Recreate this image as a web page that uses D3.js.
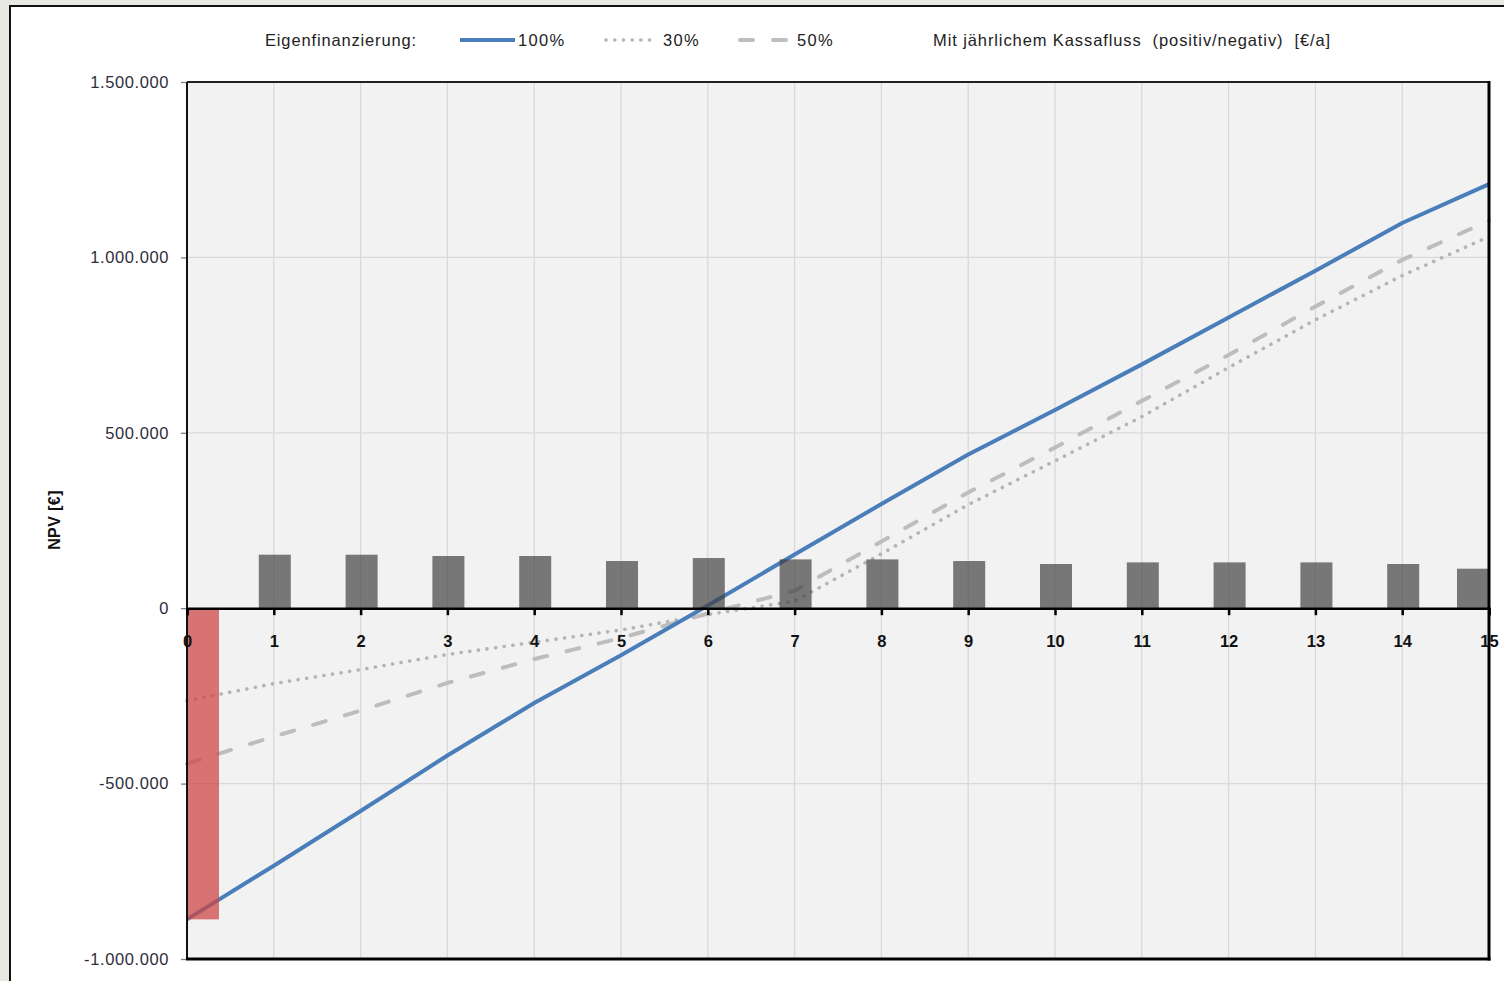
<!DOCTYPE html>
<html>
<head>
<meta charset="utf-8">
<script src="https://cdn.jsdelivr.net/npm/d3@7"></script>
<style>
  html, body { margin: 0; padding: 0; background: #e9e8e3; }
  svg { display: block; }
</style>
</head>
<body>
<svg id="chart" width="1504" height="981"></svg>
<script>
// Years of the investment horizon
const years = [0, 1, 2, 3, 4, 5, 6, 7, 8, 9, 10, 11, 12, 13, 14, 15];

// Annual cash flow [€/a] (year 0 = initial investment)
const cashflow = [-887000, 152500, 152500, 148800, 148800, 134500, 143000, 139100,
                  139100, 134500, 126000, 130600, 130600, 130600, 126000, 112600];

// Cumulative NPV [€] for different equity shares
const npv100 = [-887000, -734000, -578000, -420000, -270000, -134000, 8000, 153000,
                297000, 438000, 565000, 695000, 829000, 962000, 1098000, 1209000];
const npv30  = [-264000, -215000, -175000, -132000, -97000, -62000, -18000, 20000,
                155000, 295000, 420000, 546000, 686000, 822000, 948000, 1059000];
const npv50  = [-443000, -366000, -292000, -213000, -145000, -85000, -15000, 50000,
                190000, 330000, 458000, 591000, 722000, 860000, 993000, 1105000];

const yTicks = [-1000000, -500000, 0, 500000, 1000000, 1500000];

const svg = d3.select("#chart");
const W = 1504, H = 981;
const plot = { left: 187, right: 1489, top: 82, bottom: 959 };
const FONT = "'Liberation Sans', Arial, sans-serif";

const de = d3.formatLocale({ decimal: ",", thousands: ".", grouping: [3], currency: ["", " €"], minus: "-" });
const fmt = de.format(",.0f");

const x = d3.scaleLinear().domain([0, 15]).range([plot.left, plot.right]);
const y = d3.scaleLinear().domain([-1000000, 1500000]).range([plot.bottom, plot.top]);

// Outer chart frame
svg.append("rect").attr("x", 10).attr("y", 6).attr("width", W).attr("height", H)
  .attr("fill", "#ffffff").attr("stroke", "#111").attr("stroke-width", 2);

// Plot background
svg.append("rect").attr("x", plot.left).attr("y", plot.top)
  .attr("width", plot.right - plot.left).attr("height", plot.bottom - plot.top)
  .attr("fill", "#f2f2f2");

// Gridlines
svg.append("g").selectAll("line").data(years.slice(1, -1)).join("line")
  .attr("x1", d => x(d)).attr("x2", d => x(d))
  .attr("y1", plot.top).attr("y2", plot.bottom)
  .attr("stroke", "#d9d9d9").attr("stroke-width", 1.3);
svg.append("g").selectAll("line").data(yTicks.filter(d => d !== 0 && d > -1000000 && d < 1500000)).join("line")
  .attr("x1", plot.left).attr("x2", plot.right)
  .attr("y1", d => y(d)).attr("y2", d => y(d))
  .attr("stroke", "#d9d9d9").attr("stroke-width", 1.3);

// Y axis
const yAxis = d3.axisLeft(y).tickValues(yTicks).tickFormat(fmt).tickSize(6).tickPadding(12);
const ya = svg.append("g").attr("transform", `translate(${plot.left},0)`).call(yAxis);
ya.select(".domain").remove();
ya.selectAll(".tick line").attr("stroke", "#808080").attr("stroke-width", 1.3);
ya.selectAll(".tick text")
  .attr("font-family", FONT)
  .attr("font-size", 16.5).attr("letter-spacing", "0.6px")
  .attr("fill", "#2e2e3c");

// Axis title
svg.append("text")
  .attr("transform", `translate(60,520) rotate(-90)`)
  .attr("text-anchor", "middle")
  .attr("font-family", FONT)
  .attr("font-weight", "bold").attr("font-size", 16)
  .attr("letter-spacing", "0.4px")
  .attr("fill", "#111").text("NPV [€]");

// Lines
const line = d3.line().x((d, i) => x(years[i])).y(d => y(d));

svg.append("path").datum(npv30).attr("d", line)
  .attr("fill", "none").attr("stroke", "#b4b4b4").attr("stroke-width", 3.6)
  .attr("stroke-linecap", "round").attr("stroke-dasharray", "0.1 8.6");

svg.append("path").datum(npv50).attr("d", line)
  .attr("fill", "none").attr("stroke", "#bdbdbd").attr("stroke-width", 4)
  .attr("stroke-linecap", "round").attr("stroke-dasharray", "13 20");

svg.append("path").datum(npv100).attr("d", line)
  .attr("fill", "none").attr("stroke", "#4a7ebb").attr("stroke-width", 4)
  .attr("stroke-linejoin", "round");

// Annual cash flow bars (drawn translucent above the lines)
const barW = 32;
svg.append("g").selectAll("rect").data(cashflow).join("rect")
  .attr("x", (d, i) => Math.min(Math.max(x(years[i]) - barW / 2 + 1, plot.left), plot.right - barW))
  .attr("width", barW)
  .attr("y", d => y(Math.max(d, 0)))
  .attr("height", d => Math.abs(y(d) - y(0)))
  .attr("fill", d => d < 0 ? "#cd4646" : "#404040")
  .attr("fill-opacity", d => d < 0 ? 0.74 : 0.69);

// Plot border
svg.append("line").attr("x1", plot.left).attr("x2", plot.right).attr("y1", plot.top).attr("y2", plot.top)
  .attr("stroke", "#222").attr("stroke-width", 2);
svg.append("line").attr("x1", plot.left).attr("x2", plot.left).attr("y1", plot.top).attr("y2", plot.bottom + 1)
  .attr("stroke", "#111").attr("stroke-width", 2);
svg.append("line").attr("x1", plot.right).attr("x2", plot.right).attr("y1", plot.top - 1).attr("y2", plot.bottom + 1.5)
  .attr("stroke", "#000").attr("stroke-width", 3);
svg.append("line").attr("x1", plot.left - 1).attr("x2", plot.right + 1.5).attr("y1", plot.bottom).attr("y2", plot.bottom)
  .attr("stroke", "#000").attr("stroke-width", 3);

// Zero axis with year ticks and labels
const xAxis = d3.axisBottom(x).tickValues(years).tickFormat(d3.format("d")).tickSize(7).tickPadding(20);
const xa = svg.append("g").attr("transform", `translate(0,${y(0)})`).call(xAxis);
xa.select(".domain").attr("stroke", "#000").attr("stroke-width", 2.5);
xa.selectAll(".tick line").attr("stroke", "#000").attr("stroke-width", 2.5);
xa.selectAll(".tick text")
  .attr("font-family", FONT)
  .attr("font-weight", "bold").attr("font-size", 16.5)
  .attr("fill", "#111");

// Legend
const legY = 40;
const lg = svg.append("g")
  .attr("font-family", FONT)
  .attr("font-size", 16.5).attr("fill", "#222");
lg.append("text").attr("x", 265).attr("y", legY).attr("dy", "0.35em")
  .attr("letter-spacing", "0.85px").text("Eigenfinanzierung:");

const legendItems = [
  { label: "100%", x0: 460, x1: 515, tx: 518, stroke: "#4a7ebb", width: 4, dash: null, cap: "butt" },
  { label: "30%", x0: 606, x1: 656, tx: 663, stroke: "#b4b4b4", width: 3.6, dash: "0.1 8.6", cap: "round" },
  { label: "50%", x0: 740, x1: 790, tx: 797, stroke: "#bdbdbd", width: 4, dash: "13 20", cap: "round" }
];
legendItems.forEach(it => {
  lg.append("line").attr("x1", it.x0).attr("x2", it.x1).attr("y1", legY).attr("y2", legY)
    .attr("stroke", it.stroke).attr("stroke-width", it.width)
    .attr("stroke-linecap", it.cap).attr("stroke-dasharray", it.dash);
  lg.append("text").attr("x", it.tx).attr("y", legY).attr("dy", "0.35em")
    .attr("letter-spacing", "1.3px").text(it.label);
});
lg.append("text").attr("x", 933).attr("y", legY).attr("dy", "0.35em")
  .attr("letter-spacing", "0.9px")
  .style("white-space", "pre")
  .text("Mit jährlichem Kassafluss  (positiv/negativ)  [€/a]");
</script>
</body>
</html>
